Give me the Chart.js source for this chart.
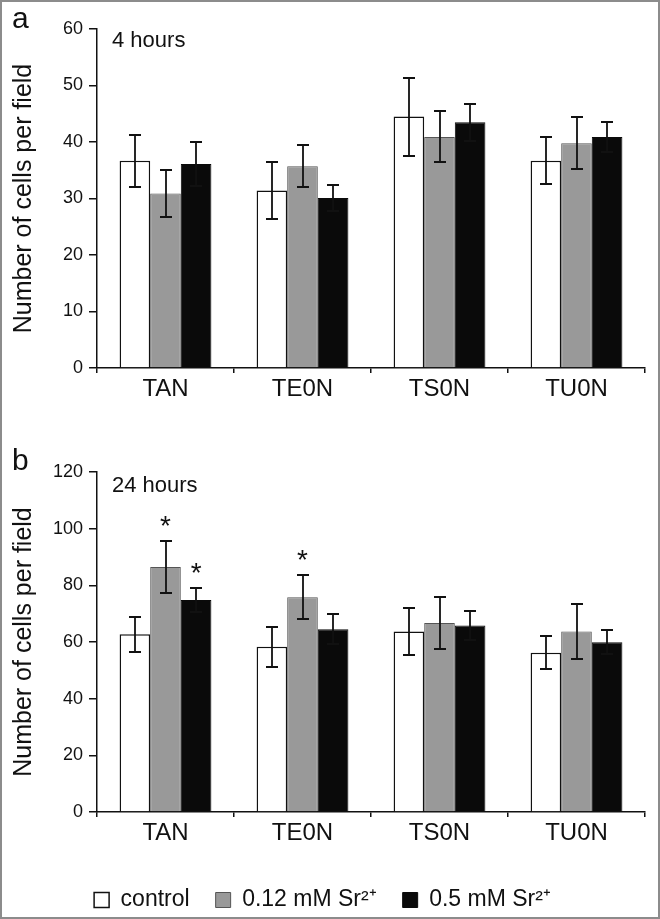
<!DOCTYPE html>
<html>
<head>
<meta charset="utf-8">
<script src="https://cdn.jsdelivr.net/npm/chart.js@4.4.1/dist/chart.umd.min.js"></script>
<style>
html, body { margin: 0; padding: 0; background: #fff; overflow: hidden; }
#wrap { position: relative; width: 660px; height: 919px; overflow: hidden; }
#wrap canvas { position: absolute; left: 0; }
#frame { position: absolute; left: 0; top: 0; width: 660px; height: 919px; box-sizing: border-box; border: 2px solid #8c8c8c; pointer-events: none; }
</style>
</head>
<body>
<div id="wrap">
  <canvas id="chart4h" width="660" height="420" style="top:0"></canvas>
  <canvas id="chart24h" width="660" height="499" style="top:440px"></canvas>
  <div id="frame"></div>
</div>
<script>
const categories = ['TAN', 'TE0N', 'TS0N', 'TU0N'];
const seriesLabels = ['control', '0.12 mM Sr²⁺', '0.5 mM Sr²⁺'];
const seriesColors = ['#ffffff', '#999999', '#0a0a0a'];
const seriesBorders = ['#111111', '#555555', '#0a0a0a'];

// panel a - 4 hours
const control4h = [36.7, 31.4, 44.5, 36.7];
const sr012_4h = [30.9, 35.7, 40.9, 39.8];
const sr05_4h = [36.1, 30.1, 43.5, 40.9];
const controlErr4h = [4.6, 5.0, 6.9, 4.2];
const sr012Err4h = [4.1, 3.7, 4.5, 4.6];
const sr05Err4h = [3.9, 2.3, 3.3, 2.6];
const yTicks4h = [0, 10, 20, 30, 40, 50, 60];

// panel b - 24 hours
const control24h = [62.7, 58.3, 63.7, 56.2];
const sr012_24h = [86.5, 75.8, 66.7, 63.7];
const sr05_24h = [74.8, 64.5, 65.8, 59.9];
const controlErr24h = [6.2, 7.1, 8.3, 5.9];
const sr012Err24h = [9.3, 7.8, 9.3, 9.6];
const sr05Err24h = [4.3, 5.3, 5.0, 4.2];
const yTicks24h = [0, 20, 40, 60, 80, 100, 120];
// significant bars: [category index, series index]
const stars24h = [[0, 1], [0, 2], [1, 1]];

const FONT = "'Liberation Sans', Arial, Helvetica, sans-serif";
Chart.defaults.font.family = FONT;
Chart.defaults.color = '#111';

function overlay(letter, note, errors, stars) {
  return {
    id: 'overlay',
    afterDatasetsDraw(chart) {
      const ctx = chart.ctx;
      const y = chart.scales.y;
      ctx.save();
      ctx.strokeStyle = '#111';
      ctx.lineWidth = 1.8;
      errors.forEach((errs, di) => {
        const meta = chart.getDatasetMeta(di);
        meta.data.forEach((bar, i) => {
          const v = chart.data.datasets[di].data[i];
          const top = Math.round(y.getPixelForValue(v + errs[i]));
          const bot = Math.round(y.getPixelForValue(v - errs[i]));
          const x = Math.round(bar.x);
          ctx.beginPath();
          ctx.moveTo(x, top); ctx.lineTo(x, bot);
          ctx.moveTo(x - 6, top); ctx.lineTo(x + 6, top);
          ctx.moveTo(x - 6, bot); ctx.lineTo(x + 6, bot);
          ctx.stroke();
        });
      });
      ctx.fillStyle = '#111';
      ctx.textAlign = 'center';
      ctx.textBaseline = 'alphabetic';
      ctx.font = '28px ' + FONT;
      stars.forEach(([ci, si]) => {
        const bar = chart.getDatasetMeta(si).data[ci];
        const v = chart.data.datasets[si].data[ci];
        const top = y.getPixelForValue(v + errors[si][ci]);
        ctx.fillText('*', bar.x, top - 6);
      });
      ctx.textAlign = 'left';
      ctx.font = '30px ' + FONT;
      ctx.fillText(letter.text, 12, letter.base);
      ctx.font = '22px ' + FONT;
      ctx.fillText(note.text, 112, note.base);
      ctx.restore();
    }
  };
}

function makeChart(id, series, errors, ticks, opts) {
  return new Chart(document.getElementById(id), {
    type: 'bar',
    data: {
      labels: categories,
      datasets: seriesLabels.map((label, i) => ({
        label: label,
        data: series[i],
        backgroundColor: seriesColors[i],
        borderColor: seriesBorders[i],
        borderWidth: i === 0 ? 1.5 : 1,
        categoryPercentage: 0.67,
        barPercentage: 1.0
      }))
    },
    options: {
      responsive: false,
      animation: false,
      layout: { padding: opts.padding },
      plugins: {
        tooltip: { enabled: false },
        legend: opts.legend
      },
      scales: {
        x: {
          ticks: { font: { size: 24 }, color: '#111', padding: 2 },
          grid: { display: true, drawOnChartArea: false, drawTicks: true, tickLength: 5, color: '#111', lineWidth: 1.5, offset: true },
          border: { display: true, color: '#111', width: 1.5 },
          afterFit(s) { s.height = opts.xHeight; }
        },
        y: {
          min: ticks[0],
          max: ticks[ticks.length - 1],
          ticks: { stepSize: ticks[1] - ticks[0], font: { size: 18 }, color: '#111', padding: 6 },
          grid: { display: true, drawOnChartArea: false, drawTicks: true, tickLength: 8, color: '#111', lineWidth: 1.5 },
          border: { display: true, color: '#111', width: 1.5 },
          title: { display: true, text: 'Number of cells per field', font: { size: 25, lineHeight: 1 }, color: '#111', padding: { top: 12, bottom: 0 } },
          afterFit(s) { s.width = 97; }
        }
      }
    },
    plugins: [overlay(opts.letter, opts.note, errors, opts.stars)]
  });
}

makeChart('chart4h',
  [control4h, sr012_4h, sr05_4h],
  [controlErr4h, sr012Err4h, sr05Err4h],
  yTicks4h,
  {
    padding: { top: 29, right: 15, bottom: 0, left: 0 },
    xHeight: 52,
    legend: { display: false },
    letter: { text: 'a', base: 28 },
    note: { text: '4 hours', base: 47 },
    stars: []
  });

makeChart('chart24h',
  [control24h, sr012_24h, sr05_24h],
  [controlErr24h, sr012Err24h, sr05Err24h],
  yTicks24h,
  {
    padding: { top: 32, right: 15, bottom: 17.5, left: 0 },
    xHeight: 50.5,
    legend: {
      display: true,
      position: 'bottom',
      labels: { boxWidth: 15, boxHeight: 15, padding: 26, font: { size: 23 }, color: '#111' }
    },
    letter: { text: 'b', base: 30 },
    note: { text: '24 hours', base: 52 },
    stars: stars24h
  });
</script>
</body>
</html>
